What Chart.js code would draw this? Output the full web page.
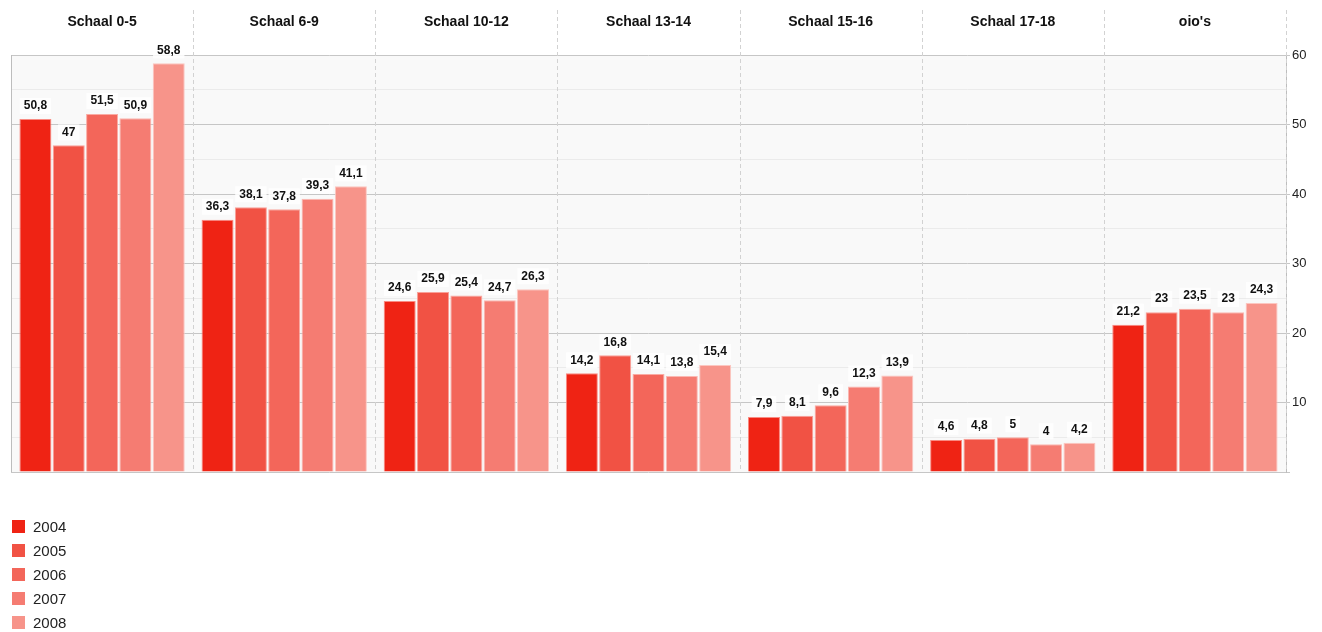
<!DOCTYPE html>
<html>
<head>
<meta charset="utf-8">
<script src="https://cdn.jsdelivr.net/npm/chart.js@4/dist/chart.umd.min.js"></script>
<style>
  html, body { margin: 0; padding: 0; background: #fff; }
  #wrap { position: relative; width: 1322px; height: 632px; }
  #legend { position: absolute; left: 12px; top: 514px; font-family: "Liberation Sans", Arial, sans-serif; font-size: 15px; color: #222; }
  #legend .item { height: 24px; display: flex; align-items: center; }
  #legend .box { width: 13px; height: 13px; margin-right: 8px; }
</style>
</head>
<body>
<div id="wrap">
  <canvas id="chart" width="1322" height="632"></canvas>
  <div id="legend"></div>
</div>
<script>
const categories = ['Schaal 0-5', 'Schaal 6-9', 'Schaal 10-12', 'Schaal 13-14', 'Schaal 15-16', 'Schaal 17-18', "oio's"];
const years = ['2004', '2005', '2006', '2007', '2008'];
const values2004 = [50.8, 36.3, 24.6, 14.2, 7.9, 4.6, 21.2];
const values2005 = [47, 38.1, 25.9, 16.8, 8.1, 4.8, 23];
const values2006 = [51.5, 37.8, 25.4, 14.1, 9.6, 5, 23.5];
const values2007 = [50.9, 39.3, 24.7, 13.8, 12.3, 4, 23];
const values2008 = [58.8, 41.1, 26.3, 15.4, 13.9, 4.2, 24.3];
const colors = ['#ef2314', '#f15244', '#f3665a', '#f57c72', '#f7948a'];
const edges = ['#f98b82', '#f9a098', '#faaaa2', '#fbb8b2', '#fcc6c0'];

const allValues = [values2004, values2005, values2006, values2007, values2008];

const font = '"Liberation Sans", Arial, sans-serif';

const plotBg = {
  id: 'plotBg',
  beforeDraw(chart) {
    const { ctx, chartArea: a } = chart;
    ctx.save();
    ctx.fillStyle = '#f9f9f9';
    ctx.fillRect(a.left, a.top, a.right - a.left, a.bottom - a.top);
    ctx.restore();
  },
  beforeDatasetsDraw(chart) {
    const { ctx, chartArea: a } = chart;
    const x = chart.scales.x;
    ctx.save();
    ctx.strokeStyle = '#d2d2d2';
    ctx.lineWidth = 1;
    ctx.setLineDash([4, 3]);
    for (let i = 1; i <= categories.length; i++) {
      const px = Math.round(x.getPixelForValue(i - 0.5)) + 0.5;
      ctx.beginPath();
      ctx.moveTo(px, 10);
      ctx.lineTo(px, a.bottom);
      ctx.stroke();
    }
    ctx.setLineDash([]);
    ctx.strokeStyle = '#bdbdbd';
    ctx.beginPath();
    ctx.moveTo(a.left + 0.5, a.top);
    ctx.lineTo(a.left + 0.5, a.bottom);
    ctx.stroke();
    ctx.restore();
  }
};

const valueLabels = {
  id: 'valueLabels',
  afterDatasetsDraw(chart) {
    const { ctx } = chart;
    ctx.save();
    ctx.font = 'bold 12px ' + font;
    ctx.textAlign = 'center';
    ctx.textBaseline = 'middle';
    chart.data.datasets.forEach((ds, di) => {
      chart.getDatasetMeta(di).data.forEach((bar, i) => {
        const txt = String(ds.data[i]).replace('.', ',');
        const w = ctx.measureText(txt).width + 8;
        const y = bar.y - 13;
        ctx.fillStyle = 'rgba(255,255,255,0.85)';
        ctx.fillRect(bar.x - w / 2, y - 8, w, 16);
        ctx.fillStyle = '#111';
        ctx.fillText(txt, bar.x, y);
      });
    });
    ctx.restore();
  }
};

const chart = new Chart(document.getElementById('chart'), {
  type: 'bar',
  data: {
    labels: categories,
    datasets: years.map((y, i) => ({
      label: y,
      data: allValues[i],
      backgroundColor: colors[i],
      borderColor: edges[i],
      borderWidth: 1,
      categoryPercentage: 0.915,
      barPercentage: 0.96,
    })),
  },
  options: {
    responsive: false,
    animation: false,
    layout: { padding: { left: 11, right: 0, top: 0, bottom: 160 } },
    plugins: {
      legend: { display: false },
      tooltip: { enabled: false },
    },
    scales: {
      x: {
        position: 'top',
        grid: { display: false, drawTicks: false },
        border: { display: false },
        ticks: {
          color: '#111',
          font: { family: font, size: 14, weight: 'bold' },
          padding: 24,
          maxRotation: 0,
        },
        afterFit(scale) { scale.height = 55; },
      },
      y: {
        position: 'right',
        min: 0,
        max: 60,
        grid: {
          color: (c) => (c.tick.value % 10 === 0 ? '#c6c6c6' : '#ebebeb'),
          tickColor: (c) => (c.tick.value % 10 === 0 ? '#c6c6c6' : 'rgba(0,0,0,0)'),
          tickLength: 4,
        },
        border: { display: true, color: '#bdbdbd' },
        ticks: {
          stepSize: 5,
          color: '#222',
          font: { family: font, size: 13 },
          padding: 2,
          callback: (v) => (v % 10 === 0 && v > 0 ? v : ''),
        },
        afterFit(scale) { scale.width = 36; },
      },
    },
  },
  plugins: [plotBg, valueLabels],
});

const legend = document.getElementById('legend');
chart.data.datasets.forEach((ds) => {
  const item = document.createElement('div');
  item.className = 'item';
  item.innerHTML = '<span class="box" style="background:' + ds.backgroundColor + '"></span><span>' + ds.label + '</span>';
  legend.appendChild(item);
});
</script>
</body>
</html>
